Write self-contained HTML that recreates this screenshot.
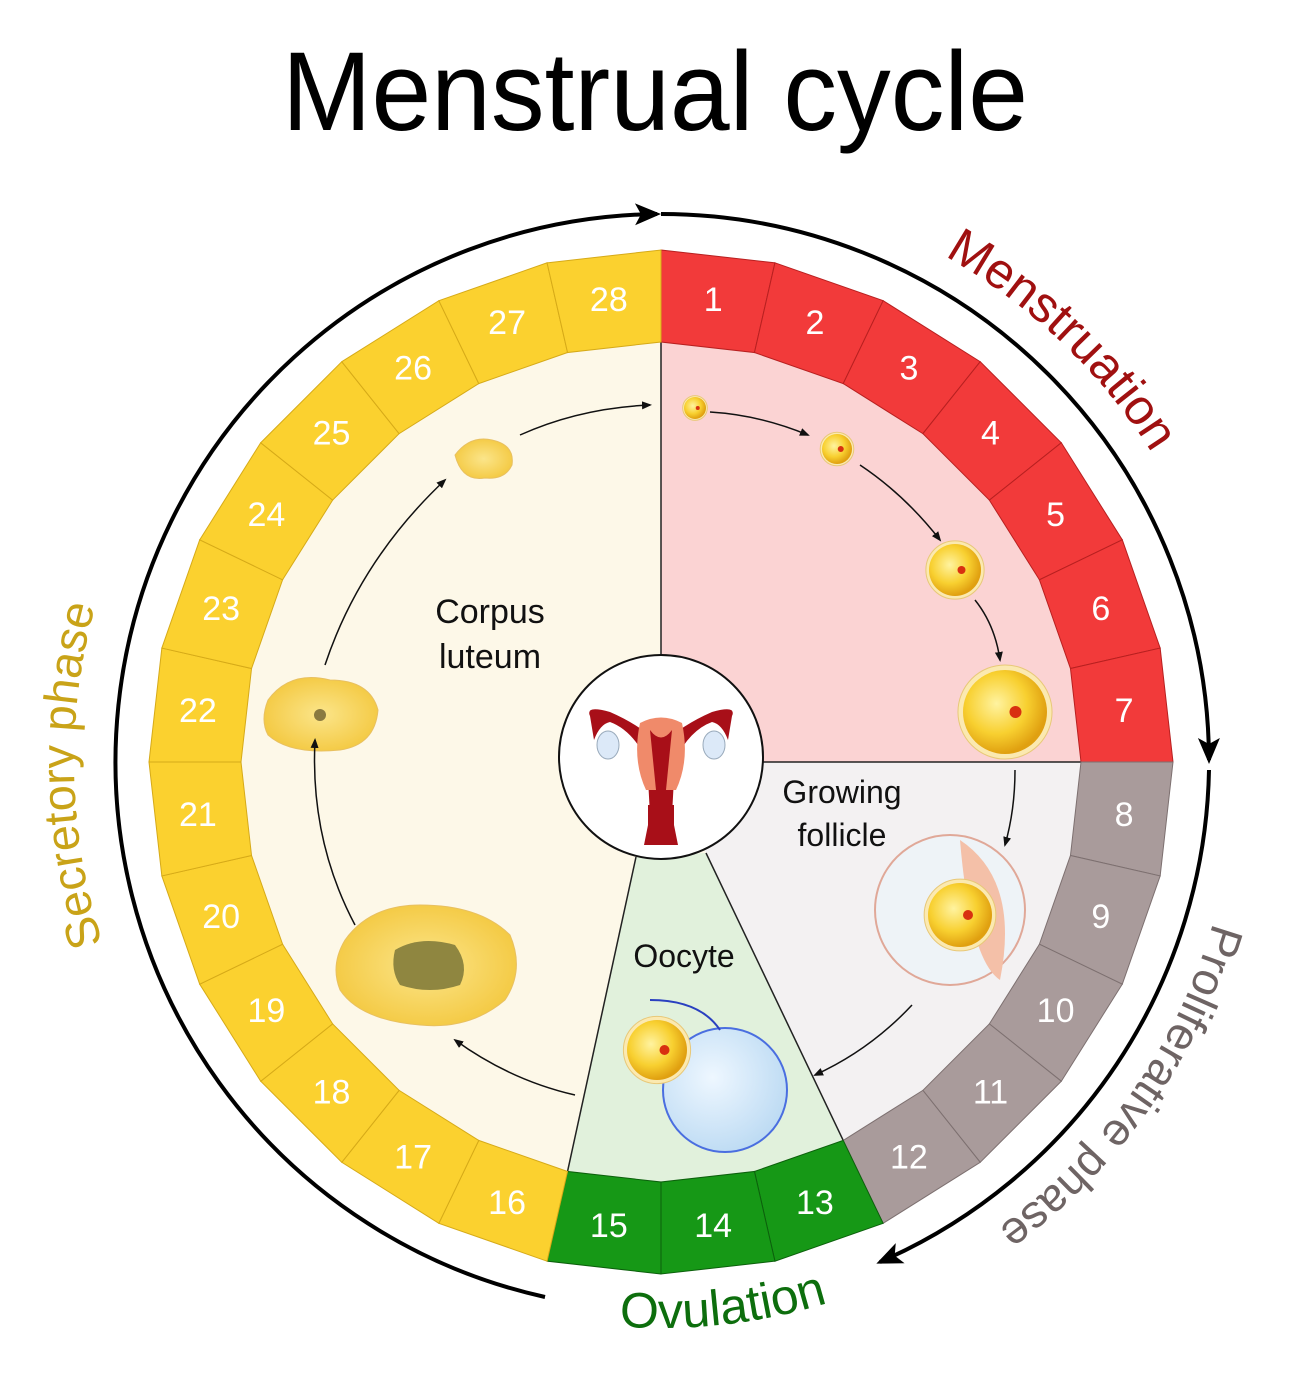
<!DOCTYPE html>
<html><head><meta charset="utf-8"><style>
html,body{margin:0;padding:0;background:#fff}
svg{display:block}
text{font-family:"Liberation Sans",Arial,sans-serif}
</style></head><body>
<svg id="s" width="1291" height="1378" viewBox="0 0 1291 1378" xmlns="http://www.w3.org/2000/svg">
<defs>
<marker id="ah" markerWidth="10" markerHeight="10" refX="8" refY="5" orient="auto" markerUnits="userSpaceOnUse"><path d="M0,1 L10,5 L0,9 Z" fill="#111"/></marker>
<marker id="bh" markerWidth="30" markerHeight="30" refX="22" refY="15" orient="auto" markerUnits="userSpaceOnUse"><path d="M0,4 L26,15 L0,26 L6,15 Z" fill="#000"/></marker>
<radialGradient id="fol" cx="0.4" cy="0.4" r="0.6"><stop offset="0" stop-color="#fff3a0"/><stop offset="0.6" stop-color="#f8d030"/><stop offset="1" stop-color="#e0a010"/></radialGradient>
<radialGradient id="lut" cx="0.5" cy="0.5" r="0.6"><stop offset="0" stop-color="#fbe58a"/><stop offset="1" stop-color="#f3c63a"/></radialGradient>
<radialGradient id="blu" cx="0.4" cy="0.4" r="0.7"><stop offset="0" stop-color="#eef7ff"/><stop offset="1" stop-color="#b8d8f2"/></radialGradient>
<path id="pMen" d="M 661 182 A 580 580 0 0 1 1241 762"/>
<path id="pPro" d="M 1236 762 A 575 575 0 0 1 661 1337"/>
<path id="pSec" d="M 661 1349 A 587 587 0 0 1 661 175"/>
<path id="pOv" d="M 95 762 A 566 566 0 0 0 1227 762"/>
</defs>
<text x="655" y="130" font-size="112" text-anchor="middle" textLength="746" lengthAdjust="spacingAndGlyphs" fill="#000">Menstrual cycle</text>
<g id="g"></g>
<path d="M 545 1297 A 548 548 0 0 1 657 214" fill="none" stroke="#000" stroke-width="4" marker-end="url(#bh)"/>
<path d="M 661 214 A 548 548 0 0 1 1209 760" fill="none" stroke="#000" stroke-width="4" marker-end="url(#bh)"/>
<path d="M 1209 770 A 548 548 0 0 1 880 1262" fill="none" stroke="#000" stroke-width="4" marker-end="url(#bh)"/>
<text font-size="50" fill="#a01010"><textPath href="#pMen" startOffset="32.5%">Menstruation</textPath></text>
<text font-size="46" fill="#6e6464"><textPath href="#pPro" startOffset="18%">Proliferative phase</textPath></text>
<text font-size="47" fill="#c9a318"><textPath href="#pSec" startOffset="40%">Secretory phase</textPath></text>
<text font-size="50" fill="#0d6e0d"><textPath href="#pOv" startOffset="53.6%" text-anchor="middle">Ovulation</textPath></text>
</svg>
<script>
const NS="http://www.w3.org/2000/svg",g=document.getElementById('g');
const cx=661,cy=762,RO=512,RI=420,st=360/28;
function P(r,a){a=a*Math.PI/180;return [cx+r*Math.sin(a),cy-r*Math.cos(a)];}
function el(t,at,txt){const e=document.createElementNS(NS,t);for(const k in at)e.setAttribute(k,at[k]);if(txt)e.textContent=txt;g.appendChild(e);return e;}
function pts(a){return a.map(p=>p.join(',')).join(' ');}
let inner=[];for(let i=0;i<28;i++)inner.push(P(RI,i*st));
el('polygon',{points:pts(inner),fill:'#fdf8e8'});
el('polygon',{points:pts([[cx,cy],P(RI,0),P(RI,st),P(RI,2*st),P(RI,3*st),P(RI,4*st),P(RI,5*st),P(RI,6*st),P(RI,7*st),[cx+RI,cy]]),fill:'#fbd3d3'});
let gr=[[cx,cy],[P(RI,7*st)[0],cy]];for(let i=8;i<=12;i++)gr.push(P(RI,i*st));gr.push([706,853]);
el('polygon',{points:pts(gr),fill:'#f3f1f2'});
el('polygon',{points:pts([[636,857],[706,853],P(RI,12*st),P(RI,13*st),P(RI,14*st),P(RI,15*st)]),fill:'#e1f1dc'});
el('line',{x1:cx,y1:cy,x2:cx,y2:cy-RI,stroke:'#222','stroke-width':1.5});
el('line',{x1:cx,y1:cy,x2:P(RI,7*st)[0],y2:cy,stroke:'#222','stroke-width':1.5});
el('line',{x1:636,y1:857,x2:P(RI,15*st)[0],y2:P(RI,15*st)[1],stroke:'#222','stroke-width':1.5});
el('line',{x1:706,y1:853,x2:P(RI,12*st)[0],y2:P(RI,12*st)[1],stroke:'#222','stroke-width':1.5});
for(let i=0;i<28;i++){
 const d=i+1;let f,s;
 if(d<=7){f='#f23a3a';s='#b82020';}else if(d<=12){f='#a99b9b';s='#7d7070';}else if(d<=15){f='#169816';s='#0c600c';}else{f='#fbd12f';s='#d6aa18';}
 const a0=i*st,a1=(i+1)*st;
 el('polygon',{points:pts([P(RO,a0),P(RO,a1),P(RI,a1),P(RI,a0)]),fill:f,stroke:s,'stroke-width':1});
 const c=P(466,a0+st/2);
 el('text',{x:c[0],y:c[1]+12,'font-size':34,'text-anchor':'middle',fill:'#fff'},String(d));
}
el('circle',{cx:661,cy:757,r:102,fill:'#fff',stroke:'#111','stroke-width':2});
el('path',{d:'M590 716 Q585 705 610 712 Q640 725 661 745 Q682 725 712 712 Q737 705 732 716 L728 740 Q722 724 712 722 Q690 730 675 760 L672 815 L678 845 L644 845 L650 815 L647 760 Q632 730 610 722 Q600 724 594 740 Z',fill:'#a80f18'});
el('path',{d:'M640 723 Q661 712 682 723 Q690 760 676 790 L646 790 Q632 760 640 723Z',fill:'#f08a6a'});
el('path',{d:'M650 730 Q661 745 672 730 L666 790 L656 790 Z',fill:'#a80f18'});
el('ellipse',{cx:608,cy:745,rx:11,ry:14,fill:'#dce9f8',stroke:'#9ab'});
el('ellipse',{cx:714,cy:745,rx:11,ry:14,fill:'#dce9f8',stroke:'#9ab'});
el('rect',{x:648,y:805,width:26,height:40,fill:'#a80f18'});
function fol(x,y,r,dr){el('circle',{cx:x,cy:y,r:r*1.12,fill:'#fbe9b0',stroke:'#e8c878'});el('circle',{cx:x,cy:y,r:r,fill:'url(#fol)'});el('circle',{cx:x+r*0.25,cy:y,r:dr,fill:'#d83010'});}
fol(695,408,11,2);fol(837,449,15,3);fol(955,570,26,4);fol(1005,712,42,6);
el('circle',{cx:950,cy:910,r:75,fill:'#eef3f7',stroke:'#e0a898','stroke-width':2});
el('path',{d:'M960 840 Q1020 880 1000 980 Q970 960 960 840Z',fill:'#f4c0a8'});
fol(960,915,32,5);
el('circle',{cx:725,cy:1090,r:62,fill:'url(#blu)',stroke:'#4a6ee0','stroke-width':2});
el('path',{d:'M650 1000 Q700 1000 720 1030',fill:'none',stroke:'#2a40c0','stroke-width':2});
fol(657,1050,30,5);
el('path',{d:'M455 455 Q470 435 492 440 Q515 445 512 465 Q505 480 485 478 Q462 482 455 455Z',fill:'url(#lut)',stroke:'#e8c060'});
el('path',{d:'M268 700 Q290 670 330 680 Q370 680 378 710 Q375 745 340 750 Q290 755 268 735 Q260 720 268 700Z',fill:'url(#lut)',stroke:'#e8c060'});
el('circle',{cx:320,cy:715,r:6,fill:'#8a7a40'});
el('path',{d:'M345 940 Q370 905 420 905 Q480 905 510 935 Q525 970 505 1000 Q470 1030 420 1025 Q360 1020 340 990 Q330 965 345 940Z',fill:'url(#lut)',stroke:'#e8c060'});
el('path',{d:'M395 950 Q420 935 455 945 Q470 965 460 985 Q430 995 400 985 Q390 970 395 950Z',fill:'#8f8640'});
const A=[[710,412,760,415,808,435],[860,465,905,495,940,540],[975,600,995,625,1000,660],[1015,770,1015,810,1005,845],[912,1005,870,1050,815,1075],[575,1095,510,1080,455,1040],[355,925,310,840,315,740],[325,665,360,560,445,480],[520,435,580,408,650,405]];
A.forEach(a=>el('path',{d:`M${a[0]} ${a[1]} Q${a[2]} ${a[3]} ${a[4]} ${a[5]}`,fill:'none',stroke:'#111','stroke-width':1.5,'marker-end':'url(#ah)'}));
el('text',{x:490,y:623,'font-size':34,'text-anchor':'middle',fill:'#111'},'Corpus');
el('text',{x:490,y:668,'font-size':34,'text-anchor':'middle',fill:'#111'},'luteum');
el('text',{x:842,y:803,'font-size':32,'text-anchor':'middle',fill:'#111'},'Growing');
el('text',{x:842,y:846,'font-size':32,'text-anchor':'middle',fill:'#111'},'follicle');
el('text',{x:684,y:967,'font-size':32,'text-anchor':'middle',fill:'#111'},'Oocyte');
</script>
</body></html>
